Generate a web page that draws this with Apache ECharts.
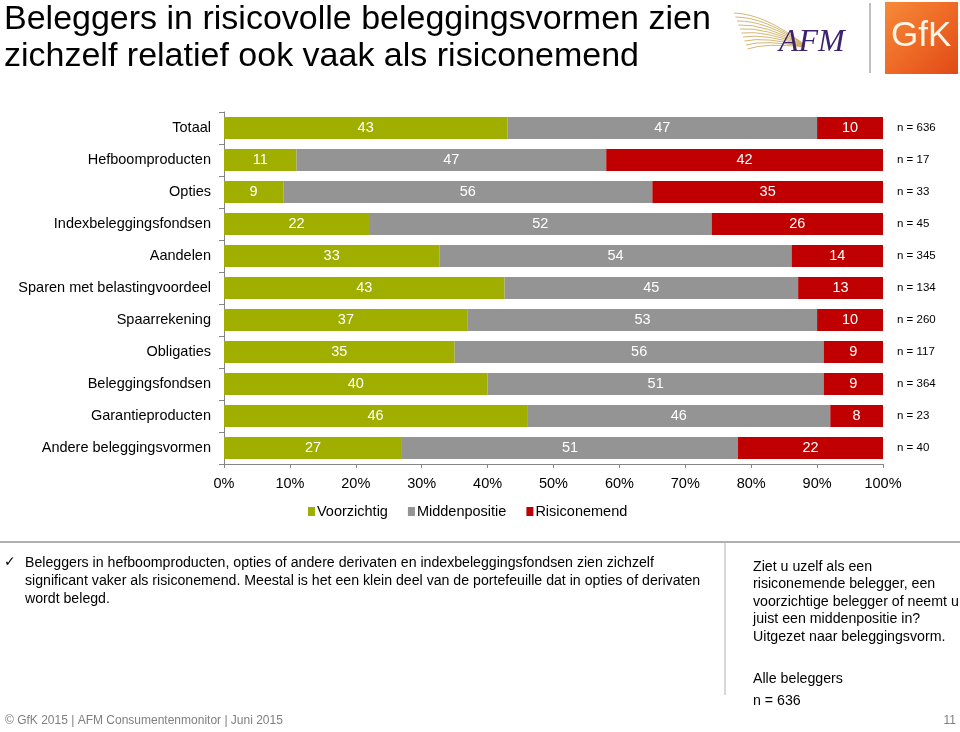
<!DOCTYPE html>
<html><head><meta charset="utf-8">
<script src="https://cdn.jsdelivr.net/npm/echarts@6/dist/echarts.min.js"></script>
<style>html,body{margin:0;padding:0;background:#fff}#c{width:960px;height:732px}</style>
</head><body><div id="c"></div>
<script>
var categories = ['Totaal','Hefboomproducten','Opties','Indexbeleggingsfondsen','Aandelen','Sparen met belastingvoordeel','Spaarrekening','Obligaties','Beleggingsfondsen','Garantieproducten','Andere beleggingsvormen'];
var voorzichtig   = [43,11, 9,22,33,43,37,35,40,46,27];
var middenpositie = [47,47,56,52,54,45,53,56,51,46,51];
var risiconemend  = [10,42,35,26,14,13,10, 9, 9, 8,22];
var nLabels = ['n = 636','n = 17','n = 33','n = 45','n = 345','n = 134','n = 260','n = 117','n = 364','n = 23','n = 40'];
var seriesNames = ['Voorzichtig','Middenpositie','Risiconemend'];
var colors = ['#a0ae00','#949494','#c00000'];

var raw = [voorzichtig, middenpositie, risiconemend];
var totals = categories.map(function(_, i){ return voorzichtig[i] + middenpositie[i] + risiconemend[i]; });

var font = 'Liberation Sans, Arial, sans-serif';
var chart = echarts.init(document.getElementById('c'), null, {renderer:'canvas'});

var series = raw.map(function(arr, k){
  return {
    name: seriesNames[k], type: 'bar', stack: 'all', barWidth: 22,
    itemStyle: {color: colors[k]},
    label: {show: true, position: 'inside', color: '#fff', fontSize: 14.5, fontFamily: font,
      formatter: function(p){ return arr[p.dataIndex]; }},
    data: arr.map(function(v, i){ return v / totals[i] * 100; })
  };
});

var feather = [];
for (var i = 0; i < 10; i++) {
  feather.push({type:'bezierCurve', shape:{x1:734 + i*1.5, y1:13 + i*4, cpx1:765, cpy1:14 + i*3.2, x2:805, y2:45 + i*0.2},
    style:{stroke:'#cda95a', lineWidth:1, fill:null, opacity:0.85}});
}

chart.setOption({
  animation: false,
  textStyle: {fontFamily: font},
  grid: {left: 224, right: 77, top: 112, height: 352},
  legend: {data: seriesNames, left: 303, top: 499, itemWidth: 7, itemHeight: 9, itemGap: 20,
    icon: 'rect', textStyle: {fontSize: 14.5, color: '#000', fontFamily: font, padding: [0,0,0,-3]}},
  xAxis: {type: 'value', min: 0, max: 100, interval: 10,
    axisLine: {show: true, lineStyle: {color: '#868686'}},
    axisTick: {show: true, length: 4, lineStyle: {color: '#868686'}},
    splitLine: {show: false},
    axisLabel: {fontSize: 14.5, color: '#000', margin: 12, formatter: '{value}%', fontFamily: font}},
  yAxis: [
    {type: 'category', data: categories, inverse: true,
      axisLine: {show: true, lineStyle: {color: '#868686'}},
      axisTick: {show: true, length: 5, lineStyle: {color: '#868686'}},
      axisLabel: {fontSize: 14.5, color: '#000', margin: 13, fontFamily: font}},
    {type: 'category', data: nLabels, inverse: true, position: 'right',
      axisLine: {show: false}, axisTick: {show: false},
      axisLabel: {fontSize: 11.5, color: '#000', margin: 14, fontFamily: font}}
  ],
  series: series,
  graphic: [
    {type:'text', left: 4, top: 1, style:{text:'Beleggers in risicovolle beleggingsvormen zien\nzichzelf relatief ook vaak als risiconemend', fontSize: 34, lineHeight: 37, fill:'#000', fontFamily: font}},
    {type:'group', children: feather},
    {type:'text', left: 779, top: 27, style:{text:'AFM', fontSize: 32, fontStyle:'italic', fill:'#3c2270', fontFamily:'Liberation Serif, DejaVu Serif, serif'}},
    {type:'line', shape:{x1:870, y1:3, x2:870, y2:73}, style:{stroke:'#aaaaaa', lineWidth:1.5}},
    {type:'rect', shape:{x:885, y:2, width:73, height:72}, style:{fill:{type:'linear', x:0, y:0, x2:1, y2:1, colorStops:[{offset:0, color:'#f68a3a'},{offset:0.5, color:'#ee6a26'},{offset:1, color:'#e04a16'}]}}},
    {type:'text', left: 891, top: 19, style:{text:'GfK', fontSize: 35, fill:'#fff6e8', fontFamily: font}},
    {type:'line', shape:{x1:0, y1:542, x2:960, y2:542}, style:{stroke:'#b0b0b0', lineWidth:2}},
    {type:'line', shape:{x1:725, y1:542, x2:725, y2:695}, style:{stroke:'#b0b0b0', lineWidth:1}},
    {type:'text', left: 4, top: 555, style:{text:'✓', fontSize: 14, fill:'#000', fontFamily:'DejaVu Sans'}},
    {type:'text', left: 25, top: 554, style:{text:'Beleggers in hefboomproducten, opties of andere derivaten en indexbeleggingsfondsen zien zichzelf\nsignificant vaker als risiconemend. Meestal is het een klein deel van de portefeuille dat in opties of derivaten\nwordt belegd.', fontSize: 14.15, lineHeight: 18, fill:'#000', fontFamily: font}},
    {type:'text', left: 753, top: 558, style:{text:'Ziet u uzelf als een\nrisiconemende belegger, een\nvoorzichtige belegger of neemt u\njuist een middenpositie in?\nUitgezet naar beleggingsvorm.', fontSize: 14.2, lineHeight: 17.5, fill:'#000', fontFamily: font}},
    {type:'text', left: 753, top: 668, style:{text:'Alle beleggers\nn = 636', fontSize: 14.2, lineHeight: 22, fill:'#000', fontFamily: font}},
    {type:'text', left: 5, top: 715, style:{text:'© GfK 2015 | AFM Consumentenmonitor | Juni 2015', fontSize: 12, fill:'#7f7f7f', fontFamily: font}},
    {type:'text', right: 4, top: 715, style:{text:'11', fontSize: 12, fill:'#7f7f7f', fontFamily: font}}
  ]
});
</script></body></html>
